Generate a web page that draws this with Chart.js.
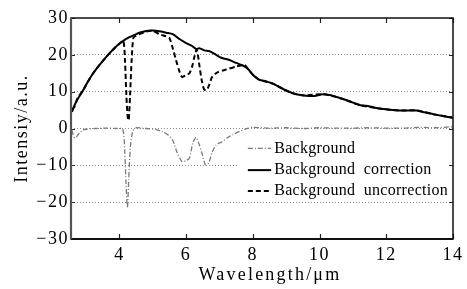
<!DOCTYPE html>
<html>
<head>
<meta charset="utf-8">
<script src="https://cdn.jsdelivr.net/npm/chart.js@4.4.1/dist/chart.umd.min.js"></script>
<style>
  html, body { margin: 0; padding: 0; background: #fff; }
  #wrap { width: 467px; height: 289px; }
</style>
</head>
<body>
<div id="wrap"><canvas id="spectrumChart" width="467" height="289"></canvas></div>
<script>
const xTicks = [4, 6, 8, 10, 12, 14];
const xTickLabels = ['4', '6', '8', '10', '12', '14'];
const yTicks = [-30, -20, -10, 0, 10, 20, 30];
const yTickLabels = ['−30', '−20', '−10', '0', '10', '20', '30'];
const seriesNames = ['Background', 'Background correction', 'Background uncorrection'];

// Background (dash-dot)
const bgX = [2.58, 2.62, 2.66, 2.72, 2.8, 2.9, 3.0, 3.3, 3.6, 3.9,
  4.1, 4.16, 4.2, 4.24, 4.28, 4.33, 4.4, 4.5, 4.7, 4.9,
  5.1, 5.3, 5.45, 5.6, 5.73, 5.88, 6.0, 6.1, 6.2, 6.3,
  6.38, 6.47, 6.58, 6.68, 6.78, 6.9, 7.08, 7.25, 7.4, 7.6,
  7.8, 8.0, 8.5, 9, 9.5, 10, 10.5, 11, 11.5, 12,
  12.5, 13, 13.5, 14];
const bgY = [-0.5, -1.8, -2.6, -2.2, -1.3, -0.5, -0.2, 0, 0.1, 0,
  -0.2, -6, -15, -21.6, -14, -5, -0.8, 0.2, 0.1, -0.1,
  -0.3, -0.9, -1.7, -3.2, -6.5, -9, -8.7, -8, -4, -2.4,
  -4, -6.5, -9.9, -9.3, -6.5, -4.5, -3.6, -2.4, -1.7, -0.8,
  -0.1, 0.3, 0.1, 0.2, 0, 0.2, 0.1, 0.1, 0.2, 0.1,
  0.1, 0.3, 0.2, 0.5];

// Background correction (solid)
const corrX = [2.58, 2.65, 2.75, 2.9, 3.05, 3.2, 3.4, 3.64, 3.85, 4.0,
  4.18, 4.3, 4.45, 4.6, 4.8, 5.0, 5.2, 5.4, 5.6, 5.8,
  6.0, 6.18, 6.3, 6.4, 6.55, 6.7, 6.9, 7.05, 7.3, 7.5,
  7.7, 7.85, 8.0, 8.1, 8.2, 8.4, 8.6, 8.8, 9.1, 9.3,
  9.5, 9.8, 10.1, 10.3, 10.6, 10.9, 11.2, 11.5, 11.8, 12.1,
  12.4, 12.7, 12.9, 13.1, 13.4, 13.7, 14.0];
const corrY = [4.5, 6.2, 8.0, 10.2, 12.6, 14.8, 17.2, 19.8, 21.8, 23.0,
  24.2, 24.8, 25.4, 26.0, 26.5, 26.6, 26.4, 26.0, 25.6, 24.3,
  23.2, 22.4, 21.6, 21.8, 21.2, 21.0, 20.0, 19.2, 18.6, 17.8,
  17.1, 16.2, 14.6, 13.8, 13.2, 12.8, 12.2, 11.2, 9.9, 9.3,
  9.0, 8.8, 9.3, 9.1, 8.3, 7.4, 6.4, 6.0, 5.4, 5.1,
  4.9, 4.9, 4.9, 4.5, 3.9, 3.4, 2.9];

// Background uncorrection (dashed)
const uncorrX = [2.58, 2.65, 2.75, 2.9, 3.05, 3.2, 3.4, 3.64, 3.85, 4.0,
  4.12, 4.17, 4.21, 4.25, 4.28, 4.32, 4.37, 4.42, 4.5, 4.6,
  4.8, 5.0, 5.2, 5.4, 5.5, 5.6, 5.7, 5.8, 5.88, 6.0,
  6.1, 6.18, 6.25, 6.32, 6.4, 6.47, 6.54, 6.62, 6.7, 6.78,
  6.93, 7.2, 7.5, 7.75, 7.85, 8.0, 8.2, 8.6, 9.1, 9.5,
  10.1, 10.6, 11.2, 11.8, 12.4, 12.9, 13.4, 14.0];
const uncorrY = [5.2, 5.8, 8.3, 10.2, 12.6, 14.8, 17.2, 19.8, 21.8, 23.0,
  23.8, 18, 9, 3, 2.2, 9, 19, 24.6, 25.2, 25.6,
  26.3, 26.5, 25.6, 25.0, 24.6, 21.8, 18.5, 15.5, 14.0, 14.5,
  15.0, 16.8, 19.5, 21.4, 17.0, 13.0, 10.6, 10.5, 12.0, 14.0,
  15.2, 16.0, 16.8, 17.3, 16.2, 14.6, 13.2, 12.2, 9.9, 9.0,
  9.3, 8.3, 6.4, 5.4, 4.9, 4.9, 3.9, 2.9];

const SERIF = '"Liberation Serif", "Times New Roman", serif';
const lineStyles = [
  { color: '#7a7a7a', width: 1.3, dash: [5, 2, 1, 2] },
  { color: '#000', width: 2, dash: [] },
  { color: '#000', width: 2, dash: [5, 3] }
];

function toPoints(xs, ys) {
  return xs.map((x, i) => ({ x: x, y: ys[i] }));
}

const framePlugin = {
  id: 'frameAndLegend',
  beforeDraw(chart) {
    chart.ctx.letterSpacing = '1.5px';
  },
  afterDatasetsDraw(chart) {
    const ctx = chart.ctx;
    const area = chart.chartArea;
    const xs = chart.scales.x;
    const ys = chart.scales.y;

    // legend inside the plot, on a white box
    const boxL = xs.getPixelForValue(7.55);
    const boxT = ys.getPixelForValue(-2.3);
    const boxB = ys.getPixelForValue(-19.2);
    ctx.save();
    ctx.fillStyle = '#fff';
    ctx.fillRect(boxL, boxT, area.right - 1 - boxL, boxB - boxT);
    ctx.font = '16px ' + SERIF;
    ctx.letterSpacing = '0.3px';
    ctx.wordSpacing = '4px';
    ctx.textBaseline = 'middle';
    ctx.fillStyle = '#000';
    const rows = [ys.getPixelForValue(-5.4), ys.getPixelForValue(-11.3), ys.getPixelForValue(-17.0)];
    const lx0 = xs.getPixelForValue(7.85);
    const lx1 = xs.getPixelForValue(8.55);
    seriesNames.forEach((name, i) => {
      const st = lineStyles[i];
      ctx.strokeStyle = st.color;
      ctx.lineWidth = st.width;
      ctx.setLineDash(st.dash);
      ctx.beginPath();
      ctx.moveTo(lx0, rows[i]);
      ctx.lineTo(lx1, rows[i]);
      ctx.stroke();
      ctx.fillText(name, lx1 + 3, rows[i]);
    });
    ctx.restore();
  },
  afterDraw(chart) {
    const ctx = chart.ctx;
    const a = chart.chartArea;
    const xs = chart.scales.x;
    const ys = chart.scales.y;
    ctx.save();
    ctx.setLineDash([]);

    // inward tick marks on all sides
    ctx.strokeStyle = '#222';
    ctx.lineWidth = 1.2;
    ctx.beginPath();
    xTicks.forEach(v => {
      const px = Math.round(xs.getPixelForValue(v)) + 0.5;
      ctx.moveTo(px, a.bottom); ctx.lineTo(px, a.bottom - 5);
      ctx.moveTo(px, a.top); ctx.lineTo(px, a.top + 5);
    });
    yTicks.forEach(v => {
      const py = Math.round(ys.getPixelForValue(v)) + 0.5;
      ctx.moveTo(a.left, py); ctx.lineTo(a.left + 4, py);
      ctx.moveTo(a.right, py); ctx.lineTo(a.right - 4, py);
    });
    ctx.stroke();

    // frame
    ctx.strokeStyle = '#111';
    ctx.lineWidth = 1.5;
    ctx.strokeRect(a.left, a.top, a.right - a.left, a.bottom - a.top);
    ctx.lineWidth = 2;
    ctx.beginPath();
    ctx.moveTo(a.left, a.bottom); ctx.lineTo(a.right, a.bottom);
    ctx.stroke();
    ctx.strokeStyle = '#555';
    ctx.lineWidth = 2.2;
    ctx.beginPath();
    ctx.moveTo(a.left, a.top); ctx.lineTo(a.left, a.bottom);
    ctx.stroke();

    // axis titles
    ctx.fillStyle = '#000';
    ctx.font = '18px ' + SERIF;
    ctx.textAlign = 'center';
    ctx.textBaseline = 'middle';
    ctx.letterSpacing = '2.2px';
    ctx.fillText('Wavelength/μm', (a.left + a.right) / 2 + 8, 275);
    ctx.letterSpacing = '1.5px';
    ctx.translate(22, (a.top + a.bottom) / 2);
    ctx.rotate(-Math.PI / 2);
    ctx.fillText('Intensiy/a.u.', 0, 0);
    ctx.restore();
  }
};

function initChart() {
  const ctx = document.getElementById('spectrumChart').getContext('2d');
  const series = [toPoints(bgX, bgY), toPoints(corrX, corrY), toPoints(uncorrX, uncorrY)];

  new Chart(ctx, {
    type: 'line',
    data: {
      datasets: series.map((pts, i) => ({
        label: seriesNames[i],
        data: pts,
        borderColor: lineStyles[i].color,
        borderWidth: lineStyles[i].width,
        borderDash: lineStyles[i].dash,
        pointRadius: 0,
        tension: 0.25,
        fill: false
      }))
    },
    options: {
      responsive: false,
      animation: false,
      devicePixelRatio: 1,
      layout: { padding: { left: 0, top: 18, right: 12, bottom: 0 } },
      plugins: {
        legend: { display: false },
        tooltip: { enabled: false }
      },
      scales: {
        x: {
          type: 'linear',
          min: 2.55,
          max: 14,
          afterBuildTicks: s => { s.ticks = xTicks.map(v => ({ value: v })); },
          afterFit: s => { s.height = 50; },
          grid: { display: false, drawTicks: false },
          border: { display: false },
          ticks: {
            padding: 5,
            maxRotation: 0,
            autoSkip: false,
            color: '#000',
            font: { family: SERIF, size: 18 },
            callback: v => xTickLabels[xTicks.indexOf(v)]
          }
        },
        y: {
          min: -30,
          max: 30,
          afterBuildTicks: s => { s.ticks = yTicks.map(v => ({ value: v })); },
          afterFit: s => { s.width = 71; },
          grid: {
            drawTicks: false,
            lineWidth: 1,
            color: c => (c.tick && Math.abs(c.tick.value) === 30) ? 'rgba(0,0,0,0)' : '#8a8a8a'
          },
          border: { display: false, dash: [1, 2] },
          ticks: {
            padding: 2,
            color: '#000',
            font: { family: SERIF, size: 18 },
            callback: v => yTickLabels[yTicks.indexOf(v)]
          }
        }
      }
    },
    plugins: [framePlugin]
  });
}

initChart();
</script>
</body>
</html>
